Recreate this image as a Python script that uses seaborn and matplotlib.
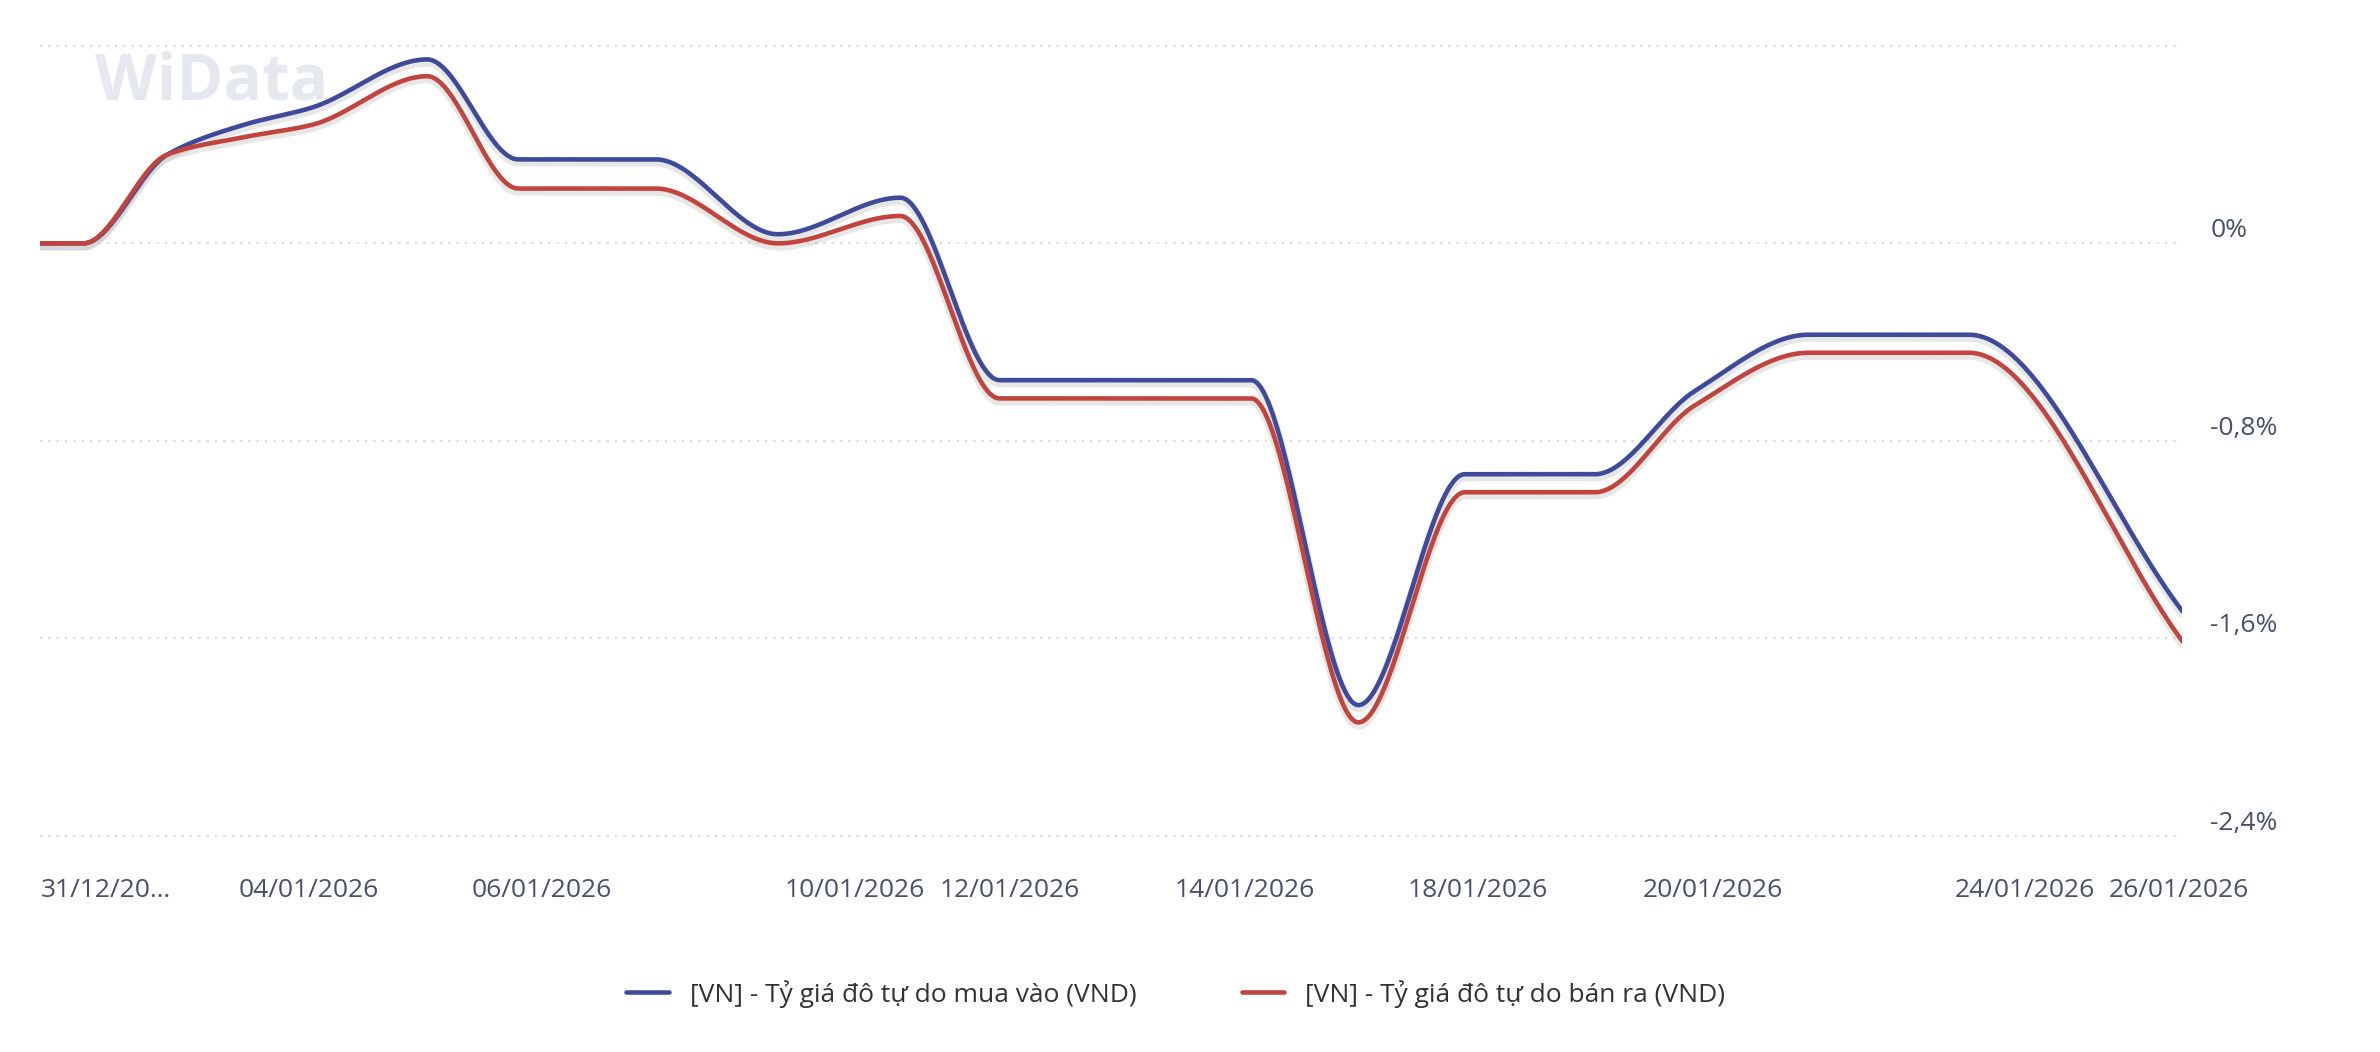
import numpy as np
import pandas as pd
import matplotlib
matplotlib.use("Agg")
import matplotlib.pyplot as plt
import seaborn as sns

# data (x in category-step units from 31/12/2025)
x_pos = [0, 0.54, 1.6, 2.56, 3.42, 4.87, 6.02, 7.75, 9.29, 10.83, 12.08, 15.25,
         16.6, 17.94, 19.58, 20.83, 22.27, 24.29, 26.98]
buy_pct = [0, 0, 0.36, 0.48, 0.55, 0.745, 0.34, 0.34, 0.037, 0.185, -0.554, -0.554,
           -1.87, -0.935, -0.935, -0.6, -0.37, -0.37, -1.49]
sell_pct = [0, 0, 0.36, 0.43, 0.48, 0.677, 0.222, 0.222, 0, 0.111, -0.628, -0.628,
            -1.94, -1.008, -1.008, -0.658, -0.443, -0.443, -1.612]
tick_pos = [0, 3.38, 6.31, 10.25, 12.21, 15.17, 18.1, 21.06, 25.0, 26.94]
tick_labels = ["31/12/20…", "04/01/2026", "06/01/2026", "10/01/2026", "12/01/2026",
               "14/01/2026", "18/01/2026", "20/01/2026", "24/01/2026", "26/01/2026"]
y_ticks = [0.8, 0, -0.8, -1.6, -2.4]
series_names = ["[VN] - Tỷ giá đô tự do mua vào (VND)", "[VN] - Tỷ giá đô tự do bán ra (VND)"]
colors = ["#3f4a9b", "#c2443f"]

def pchip(x, y, n=1500):
    x = np.asarray(x, float); y = np.asarray(y, float)
    h = np.diff(x); d = np.diff(y) / h
    m = np.zeros_like(y)
    for k in range(1, len(x) - 1):
        if d[k-1] * d[k] > 0:
            w1 = 2*h[k] + h[k-1]; w2 = h[k] + 2*h[k-1]
            m[k] = (w1 + w2) / (w1/d[k-1] + w2/d[k])
    m[0] = 0 if d[0] == 0 else d[0]; m[-1] = d[-1]
    xs = np.linspace(x[0], x[-1], n)
    idx = np.clip(np.searchsorted(x, xs) - 1, 0, len(h) - 1)
    t = (xs - x[idx]) / h[idx]
    h00 = 2*t**3 - 3*t**2 + 1; h10 = t**3 - 2*t**2 + t
    h01 = -2*t**3 + 3*t**2; h11 = t**3 - t**2
    ys = h00*y[idx] + h10*h[idx]*m[idx] + h01*y[idx+1] + h11*h[idx]*m[idx+1]
    return xs, ys

sns.set_theme(style="white")
plt.rcParams['font.family'] = ['Open Sans', 'DejaVu Sans']
fig = plt.figure(figsize=(23.8, 10.52), dpi=100)
ax = fig.add_axes([0.017, 0.192, 0.9, 0.775])

frames = []
for name, vals in zip(series_names, [buy_pct, sell_pct]):
    xs, ys = pchip(x_pos, vals)
    frames.append(pd.DataFrame({"x": xs, "y": ys, "s": name}))
df = pd.concat(frames)
for name, c in zip(series_names, colors):
    sub = df[df.s == name]
    ax.plot(sub.x, sub.y - 0.012, color="#bbbbbb", lw=6, alpha=0.35, zorder=1)
sns.lineplot(data=df, x="x", y="y", hue="s", palette=colors, lw=3.3, ax=ax,
             sort=False, estimator=None, zorder=3)

ax.set_xlim(0, 26.98)
ax.set_ylim(-2.457, 0.845)
ax.set_yticks(y_ticks)
ax.yaxis.tick_right()
ax.set_yticklabels(["" if v == 0.8 else (f"{v:.1f}".replace(".", ",") + "%" if v != 0 else "0%") for v in y_ticks])
for lab in ax.get_yticklabels():
    lab.set_va("bottom")
ax.tick_params(axis="y", length=0, pad=20, labelsize=19, labelcolor="#4a5068")
ax.set_xticks(tick_pos)
ax.set_xticklabels(tick_labels)
ax.get_xticklabels()[0].set_ha("left")
ax.tick_params(axis="x", length=0, pad=20, labelsize=19, labelcolor="#4a5068")
ax.grid(axis="y", color="#d5d8de", linestyle=(0, (1, 3)), lw=1.5)
for s in ax.spines.values():
    s.set_visible(False)
ax.set_xlabel(""); ax.set_ylabel("")
fig.text(0.04, 0.905, "WiData", fontsize=46, fontweight="bold", color="#e6e8f0", zorder=0)
ax.legend(title=None, loc="upper center", bbox_to_anchor=(0.53, -0.13), ncol=2,
          frameon=False, fontsize=19, handlelength=1.6, columnspacing=4,
          labelcolor="#333333")
fig.savefig("out.png", dpi=100)
